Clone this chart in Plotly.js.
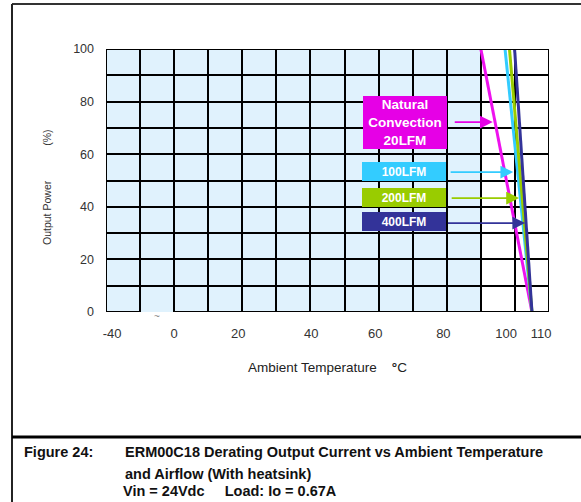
<!DOCTYPE html>
<html><head><meta charset="utf-8">
<script src="https://cdn.plot.ly/plotly-3.0.1.min.js"></script>
<style>html,body{margin:0;padding:0;background:#fff}</style>
</head><body><div id="chart" style="width:581px;height:502px"></div>
<script>
// ---- data ----
const seriesNames = ['Natural Convection 20LFM', '100LFM', '200LFM', '400LFM'];
const seriesColors = ['#EE11EE', '#33CCFF', '#99CC00', '#333399'];
const derateStartTemp = [90, 97.1, 98.4, 99.9];   // °C where derating starts (100 %)
const derateEndTemp = [105, 105, 105, 105];       // °C at 0 %
const derateStartPower = [100, 100, 100, 100];
const derateEndPower = [0, 0, 0, 0];

const boxLabels = ['Natural<br>Convection<br>20LFM', '100LFM', '200LFM', '400LFM'];
const boxColors = ['#E600E6', '#33CCFF', '#99CC00', '#333399'];
const boxCenterX = [67.6, 67.5, 67.5, 67.5];
const boxCenterY = [72.1, 53.4, 43.7, 34.4];
const arrowY = [72.2, 53.2, 43.3, 33.8];
const arrowTailX = [81.9, 80.7, 81.0, 79.9];
const arrowTipX = [93.5, 99.5, 101.2, 103.0];

const xTickText = ['-40', '0', '20', '40', '60', '80', '100', '110'];
const xTickPos = [-18.2, 0, 18.8, 40.2, 59, 79, 97.4, 107.7];
const yTickText = ['0', '20', '40', '60', '80', '100'];
const yTickPos = [0, 20, 40, 60, 80, 100];
const xGrid = [-10, 0, 10, 20, 30, 40, 50, 60, 70, 80, 90, 100];
const yGrid = [10, 20, 30, 40, 50, 60, 70, 80, 90];
const xRange = [-20, 110];
const yRange = [0, 100];
const shadedX = [-20, 90];
const breakX = [-10, 0];

const FONT = 'Liberation Sans, Arial, sans-serif';
const NB = n => '\u00a0'.repeat(n);

// ---- traces ----
const traces = seriesNames.map((n, i) => ({
  type: 'scatter', mode: 'lines', name: n,
  x: [derateStartTemp[i], derateEndTemp[i]],
  y: [derateStartPower[i], derateEndPower[i]],
  line: {color: seriesColors[i], width: 3},
  xaxis: 'x', yaxis: 'y', hoverinfo: 'skip', showlegend: false
}));
traces.push({type: 'scatter', mode: 'markers', x: [xRange[0]], y: [yRange[0]],
  marker: {opacity: 0}, xaxis: 'x2', yaxis: 'y2', hoverinfo: 'skip', showlegend: false});

// ---- shapes ----
const bl = {color: '#000', width: 2};
const shapes = [
  {type: 'rect', xref: 'x', yref: 'y', x0: shadedX[0], x1: shadedX[1], y0: yRange[0], y1: yRange[1],
   fillcolor: '#E0F2FD', line: {width: 0}, layer: 'below'},
  {type: 'line', xref: 'x', yref: 'y', x0: xRange[0], x1: xRange[1], y0: yRange[1], y1: yRange[1], line: bl, layer: 'above'},
  {type: 'line', xref: 'x', yref: 'y', x0: xRange[0], x1: xRange[0], y0: yRange[0], y1: yRange[1], line: bl, layer: 'above'},
  {type: 'line', xref: 'x', yref: 'y', x0: xRange[1], x1: xRange[1], y0: yRange[0], y1: yRange[1], line: bl, layer: 'above'},
  {type: 'line', xref: 'x', yref: 'y', x0: xRange[0], x1: breakX[0], y0: yRange[0], y1: yRange[0], line: bl, layer: 'above'},
  {type: 'line', xref: 'x', yref: 'y', x0: breakX[1], x1: xRange[1], y0: yRange[0], y1: yRange[0], line: bl, layer: 'above'},
  // page frame
  {type: 'line', xref: 'paper', yref: 'paper', x0: -0.2122, x1: 1.08, y0: 1.1711, y1: 1.1711, line: {color: '#333', width: 2}},
  {type: 'line', xref: 'paper', yref: 'paper', x0: -0.2122, x1: -0.2122, y0: -0.75, y1: 1.1711, line: {color: '#222', width: 2}},
  {type: 'line', xref: 'paper', yref: 'paper', x0: -0.2122, x1: 1.08, y0: -0.4753, y1: -0.4753, line: {color: '#000', width: 3}}
];

// ---- annotations ----
const annotations = [];
boxLabels.forEach((t, i) => {
  annotations.push({
    xref: 'x', yref: 'y', x: boxCenterX[i], y: boxCenterY[i], text: '<b>' + t + '</b>',
    showarrow: false, bgcolor: boxColors[i], width: 84, height: i === 0 ? 53 : 19,
    borderpad: 0, borderwidth: 0, align: 'center', valign: 'middle',
    font: {family: FONT, size: i === 0 ? 13.5 : 12, color: '#fff'}
  });
  annotations.push({
    xref: 'x', yref: 'y', axref: 'x', ayref: 'y', x: arrowTipX[i], y: arrowY[i],
    ax: arrowTailX[i], ay: arrowY[i], text: '', showarrow: true,
    arrowhead: 2, arrowsize: 1.6, arrowwidth: 1.6, arrowcolor: boxColors[i], standoff: 0, startstandoff: 0
  });
});
annotations.push({xref: 'x', yref: 'y', x: -5, y: 0, yanchor: 'top', text: '~', showarrow: false,
  font: {family: FONT, size: 10, color: '#888'}, yshift: 3});
// y-axis title
annotations.push({xref: 'paper', yref: 'paper', x: -0.1332, y: 0.4753, xanchor: 'center', yanchor: 'middle',
  textangle: -90, showarrow: false, text: 'Output Power' + NB(12) + '(%)',
  font: {family: FONT, size: 10.5, color: '#333'}});
const capFont = {family: FONT, size: 14.5, color: '#111'};
const caption = [
  {x: -0.1896, y: -0.5323, t: 'Figure 24:'},
  {x: 0.0384, y: -0.5323, t: 'ERM00C18 Derating Output Current vs Ambient Temperature'},
  {x: 0.0384, y: -0.6160, t: 'and Airflow (With heatsink)'},
  {x: 0.0339, y: -0.6806, t: 'Vin = 24Vdc' + NB(5) + 'Load: Io = 0.67A'}
];
caption.forEach(c => annotations.push({xref: 'paper', yref: 'paper', x: c.x, y: c.y,
  xanchor: 'left', yanchor: 'middle', text: '<b>' + c.t + '</b>', showarrow: false, font: capFont}));

const layout = {
  width: 581, height: 502,
  margin: {l: 106, r: 32, t: 49, b: 190, autoexpand: false},
  paper_bgcolor: '#fff', plot_bgcolor: '#fff', showlegend: false,
  xaxis: {range: xRange, tickmode: 'array', tickvals: xGrid, showticklabels: false,
    showgrid: true, gridcolor: '#000', gridwidth: 2, zeroline: false, showline: false, ticks: '', automargin: false},
  yaxis: {range: yRange, tickmode: 'array', tickvals: yGrid, showticklabels: false,
    showgrid: true, gridcolor: '#000', gridwidth: 2, zeroline: false, showline: false, ticks: '', automargin: false},
  xaxis2: {overlaying: 'x', anchor: 'y', side: 'bottom', range: xRange, tickmode: 'array',
    tickvals: xTickPos, ticktext: xTickText, showgrid: false, zeroline: false, showline: false, ticks: '',
    ticklabelstandoff: 12, tickfont: {family: FONT, size: 13, color: '#333'}, automargin: false,
    title: {text: 'Ambient Temperature' + NB(3) + ' <b>°</b>C', font: {family: FONT, size: 13.5, color: '#222'}, standoff: 22}},
  yaxis2: {overlaying: 'y', anchor: 'x', side: 'left', range: yRange, tickmode: 'array',
    tickvals: yTickPos, ticktext: yTickText, showgrid: false, zeroline: false, showline: false, ticks: '',
    ticklabelstandoff: 11, tickfont: {family: FONT, size: 12.5, color: '#333'}, automargin: false},
  shapes: shapes,
  annotations: annotations
};
Plotly.newPlot('chart', traces, layout, {staticPlot: true, displayModeBar: false});
</script></body></html>
